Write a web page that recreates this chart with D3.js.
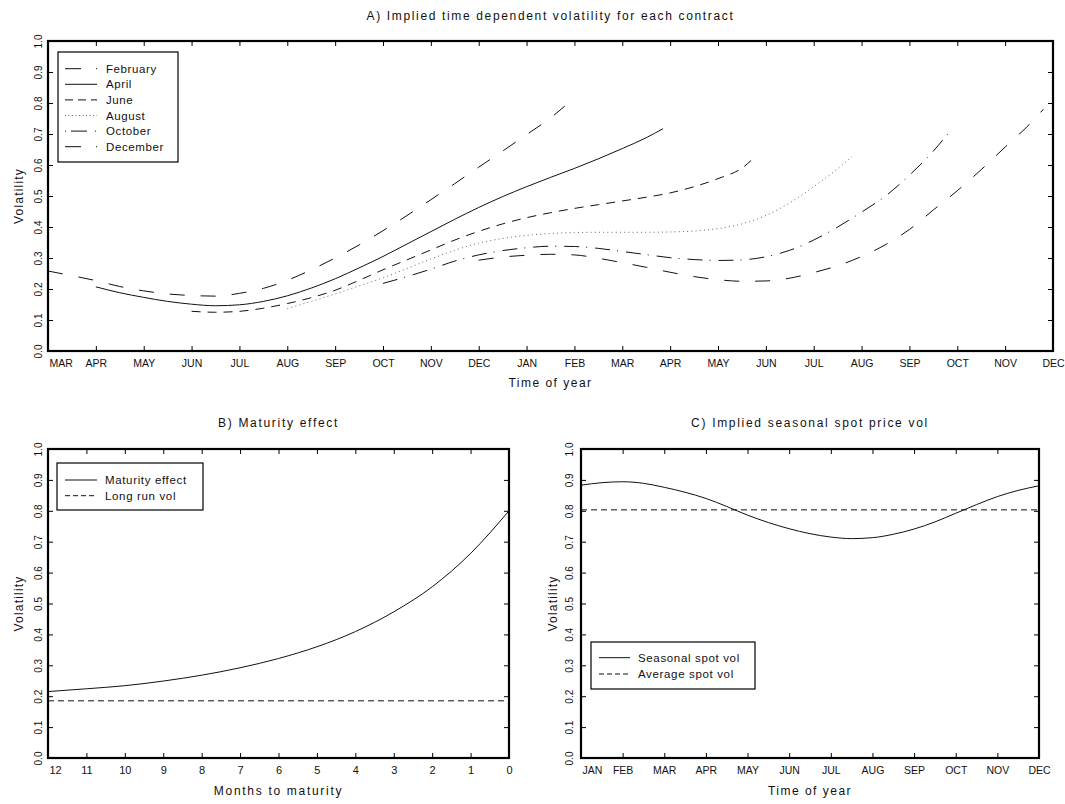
<!DOCTYPE html>
<html>
<head>
<meta charset="utf-8">
<script src="https://cdn.jsdelivr.net/npm/d3@7"></script>
<style>
  html, body { margin: 0; padding: 0; background: #fff; }
  svg { display: block; }
  text { font-family: "Liberation Sans", Arial, sans-serif; fill: #111; }
</style>
</head>
<body>
<svg id="chart" width="1065" height="804"></svg>
<script>
// ---------------- DATA ----------------
const monthsA = ["MAR","APR","MAY","JUN","JUL","AUG","SEP","OCT","NOV","DEC","JAN","FEB",
                 "MAR","APR","MAY","JUN","JUL","AUG","SEP","OCT","NOV","DEC"];
const monthsC = ["JAN","FEB","MAR","APR","MAY","JUN","JUL","AUG","SEP","OCT","NOV","DEC"];
const volTicks = [0,0.1,0.2,0.3,0.4,0.5,0.6,0.7,0.8,0.9,1.0];
const maturityTicks = [12,11,10,9,8,7,6,5,4,3,2,1,0];

const contractNames = ["February","April","June","August","October","December"];

// month position (0 = first MAR on axis) and implied volatility per contract
const febX = [0,0.5,1,1.5,2,2.5,3,3.5,4,4.5,5,5.5,6,6.5,7,7.5,8,8.5,9,9.5,10,10.5,10.8];
const febV = [0.258,0.243,0.227,0.208,0.194,0.184,0.179,0.177,0.186,0.202,0.228,0.262,0.3,0.342,0.388,0.437,0.488,0.54,0.593,0.645,0.698,0.752,0.79];
const aprX = [1,1.5,2,2.5,3,3.5,4,4.5,5,5.5,6,6.5,7,7.5,8,8.5,9,9.5,10,10.5,11,11.5,12,12.5,12.85];
const aprV = [0.207,0.188,0.173,0.16,0.151,0.146,0.149,0.16,0.178,0.203,0.233,0.268,0.305,0.345,0.385,0.425,0.463,0.498,0.53,0.56,0.589,0.62,0.653,0.688,0.717];
const junX = [3,3.5,4,4.5,5,5.5,6,6.5,7,7.5,8,8.5,9,9.5,10,10.5,11,11.5,12,12.5,13,13.5,14,14.5,14.8];
const junV = [0.128,0.125,0.128,0.138,0.153,0.172,0.196,0.228,0.262,0.294,0.326,0.358,0.386,0.41,0.43,0.446,0.46,0.472,0.484,0.496,0.51,0.53,0.556,0.59,0.63];
const augX = [5,5.5,6,6.5,7,7.5,8,8.5,9,9.5,10,10.5,11,11.5,12,12.5,13,13.5,14,14.5,15,15.5,16,16.5,16.8];
const augV = [0.137,0.16,0.184,0.21,0.236,0.266,0.297,0.325,0.348,0.363,0.373,0.379,0.382,0.383,0.383,0.383,0.384,0.387,0.395,0.41,0.437,0.478,0.53,0.588,0.627];
const octX = [7,7.5,8,8.5,9,9.5,10,10.5,11,11.5,12,12.5,13,13.5,14,14.5,15,15.5,16,16.5,17,17.5,18,18.5,18.87];
const octV = [0.218,0.24,0.264,0.29,0.31,0.324,0.333,0.338,0.337,0.331,0.321,0.311,0.301,0.295,0.292,0.294,0.304,0.325,0.358,0.4,0.448,0.5,0.567,0.645,0.713];
const decX = [9,9.5,10,10.5,11,11.5,12,12.5,13,13.5,14,14.5,15,15.5,16,16.5,17,17.5,18,18.5,19,19.5,20,20.5,20.8];
const decV = [0.293,0.303,0.309,0.312,0.31,0.299,0.285,0.27,0.254,0.24,0.23,0.225,0.226,0.235,0.253,0.275,0.305,0.343,0.392,0.455,0.517,0.585,0.658,0.73,0.78];

// Panel B: months to maturity vs volatility
const maturityX = [12,11,10,9,8,7,6,5,4,3,2,1,0];
const maturityV = [0.215,0.224,0.234,0.249,0.268,0.292,0.322,0.36,0.409,0.473,0.554,0.662,0.8];
const longRunVol = 0.185;

// Panel C: seasonal spot vol (month position, 0 = JAN)
const seasonX = [0,0.5,1,1.5,2,2.5,3,3.5,4,4.5,5,5.5,6,6.5,7,7.5,8,8.5,9,9.5,10,10.5,11];
const seasonV = [0.883,0.891,0.894,0.889,0.876,0.86,0.84,0.814,0.786,0.762,0.742,0.726,0.715,0.71,0.713,0.724,0.741,0.764,0.792,0.82,0.846,0.866,0.881];
const averageSpotVol = 0.803;

// ---------------- STYLES ----------------
const contractStyles = {
  February: { dash: "15,16", color: "#111", width: 1 },
  April:    { dash: null,    color: "#111", width: 1 },
  June:     { dash: "9,7",   color: "#111", width: 1 },
  August:   { dash: "1,3.2", color: "#666", width: 1 },
  October:  { dash: "15,7,1,8", color: "#111", width: 1 },
  December: { dash: "15,16", color: "#111", width: 1 }
};
const legendDash = {
  February: "16,15,1,20",
  April: null,
  June: "8,5",
  August: "1,2.5",
  October: "1,5,16,8,1,30",
  December: "16,15,1,20"
};

const svg = d3.select("#chart");
const FONT = "'Liberation Sans', Arial, sans-serif";

function frame(p) {
  svg.append("rect").attr("x", p.x0).attr("y", p.y0)
    .attr("width", p.x1 - p.x0).attr("height", p.y1 - p.y0)
    .attr("fill", "none").attr("stroke", "#000").attr("stroke-width", 2.2);
}

function styleAxis(g, size) {
  g.select(".domain").remove();
  g.selectAll(".tick line").attr("stroke", "#000").attr("stroke-width", 1);
  g.attr("font-family", FONT).attr("font-size", size);
  g.selectAll("text").attr("fill", "#111");
}

function drawAxes(p, x, y, xVals, xFmt, firstVal, xFontSize, yLabelOff) {
  // bottom
  const gb = svg.append("g").attr("transform", `translate(0,${p.y1})`)
    .call(d3.axisBottom(x).tickValues(xVals).tickSize(-5).tickFormat(xFmt));
  styleAxis(gb, xFontSize);
  gb.selectAll("text").attr("dy", null).attr("y", 15.5);
  gb.selectAll(".tick").filter(d => d === firstVal).select("text")
    .attr("text-anchor", "start").attr("x", 1);
  // top
  const gt = svg.append("g").attr("transform", `translate(0,${p.y0})`)
    .call(d3.axisTop(x).tickValues(xVals).tickSize(-5).tickFormat(""));
  styleAxis(gt, 10);
  // left
  const gl = svg.append("g").attr("transform", `translate(${p.x0},0)`)
    .call(d3.axisLeft(y).tickValues(volTicks).tickSize(-5).tickFormat(d3.format(".1f")));
  styleAxis(gl, 10);
  gl.selectAll("text").attr("transform", "rotate(-90)")
    .attr("x", 0).attr("y", yLabelOff).attr("dy", null).attr("text-anchor", "middle");
  // right
  const gr = svg.append("g").attr("transform", `translate(${p.x1},0)`)
    .call(d3.axisRight(y).tickValues(volTicks).tickSize(-5).tickFormat(""));
  styleAxis(gr, 10);
}

function label(x, y, txt, size, ls, rotate) {
  const t = svg.append("text").attr("font-family", FONT).attr("font-size", size)
    .attr("letter-spacing", ls).attr("text-anchor", "middle").text(txt);
  if (rotate) t.attr("transform", `translate(${x},${y}) rotate(-90)`);
  else t.attr("x", x).attr("y", y);
  return t;
}

function lineGen(x, y) {
  return d3.line().x(d => x(d[0])).y(d => y(d[1])).curve(d3.curveMonotoneX);
}

// ---------------- PANEL A ----------------
const pA = { x0: 48, x1: 1053, y0: 41, y1: 351 };
const xA = d3.scaleLinear().domain([0, 21]).range([pA.x0, pA.x1]);
const yA = d3.scaleLinear().domain([0, 1]).range([pA.y1, pA.y0]);

const contractData = {
  February: d3.zip(febX, febV),
  April: d3.zip(aprX, aprV),
  June: d3.zip(junX, junV),
  August: d3.zip(augX, augV),
  October: d3.zip(octX, octV),
  December: d3.zip(decX, decV)
};
const lA = lineGen(xA, yA);
contractNames.forEach(name => {
  const s = contractStyles[name];
  svg.append("path").datum(contractData[name]).attr("d", lA)
    .attr("fill", "none").attr("stroke", s.color).attr("stroke-width", s.width)
    .attr("stroke-dasharray", s.dash);
});
frame(pA);
drawAxes(pA, xA, yA, d3.range(monthsA.length), i => monthsA[i], 0, 10.5, -6.5);
label((pA.x0 + pA.x1) / 2, 20, "A) Implied time dependent volatility for each contract", 12, 1.65);
label((pA.x0 + pA.x1) / 2, 387, "Time of year", 12, 1.5);
label(23, (pA.y0 + pA.y1) / 2, "Volatility", 12, 1.2, true);

// legend A
const legA = { x: 58, y: 52, w: 120, h: 110, row0: 68.7, step: 15.6 };
svg.append("rect").attr("x", legA.x).attr("y", legA.y).attr("width", legA.w).attr("height", legA.h)
  .attr("fill", "#fff").attr("stroke", "#000").attr("stroke-width", 1.2);
contractNames.forEach((name, i) => {
  const yy = legA.row0 + i * legA.step;
  const s = contractStyles[name];
  svg.append("line").attr("x1", 65).attr("x2", 97).attr("y1", yy).attr("y2", yy)
    .attr("stroke", s.color).attr("stroke-width", 1).attr("stroke-dasharray", legendDash[name]);
  svg.append("text").attr("x", 106).attr("y", yy + 4).attr("font-family", FONT)
    .attr("font-size", 11.5).attr("letter-spacing", 0.6).text(name);
});

// ---------------- PANEL B ----------------
const pB = { x0: 48, x1: 509, y0: 449, y1: 758 };
const xB = d3.scaleLinear().domain([12, 0]).range([pB.x0, pB.x1]);
const yB = d3.scaleLinear().domain([0, 1]).range([pB.y1, pB.y0]);
svg.append("path").datum(d3.zip(maturityX, maturityV)).attr("d", lineGen(xB, yB))
  .attr("fill", "none").attr("stroke", "#111").attr("stroke-width", 1);
svg.append("line").attr("x1", xB(12)).attr("x2", xB(0)).attr("y1", yB(longRunVol)).attr("y2", yB(longRunVol))
  .attr("stroke", "#111").attr("stroke-width", 1).attr("stroke-dasharray", "6,4");
frame(pB);
drawAxes(pB, xB, yB, maturityTicks, d => String(d), 12, 11, -6.5);
label((pB.x0 + pB.x1) / 2, 427, "B) Maturity effect", 12, 1.7);
label((pB.x0 + pB.x1) / 2, 795, "Months to maturity", 12, 1.7);
label(23, (pB.y0 + pB.y1) / 2, "Volatility", 12, 1.2, true);

const legB = { x: 57, y: 463, w: 146, h: 47 };
svg.append("rect").attr("x", legB.x).attr("y", legB.y).attr("width", legB.w).attr("height", legB.h)
  .attr("fill", "#fff").attr("stroke", "#000").attr("stroke-width", 1.2);
[["Maturity effect", null], ["Long run vol", "5,3"]].forEach((e, i) => {
  const yy = 480 + i * 15.7;
  svg.append("line").attr("x1", 65).attr("x2", 97).attr("y1", yy).attr("y2", yy)
    .attr("stroke", "#111").attr("stroke-width", 1).attr("stroke-dasharray", e[1]);
  svg.append("text").attr("x", 105).attr("y", yy + 4).attr("font-family", FONT)
    .attr("font-size", 11.5).attr("letter-spacing", 0.65).text(e[0]);
});

// ---------------- PANEL C ----------------
const pC = { x0: 581, x1: 1039, y0: 449, y1: 758 };
const xC = d3.scaleLinear().domain([0, 11]).range([pC.x0, pC.x1]);
const yC = d3.scaleLinear().domain([0, 1]).range([pC.y1, pC.y0]);
svg.append("path").datum(d3.zip(seasonX, seasonV)).attr("d", lineGen(xC, yC))
  .attr("fill", "none").attr("stroke", "#111").attr("stroke-width", 1);
svg.append("line").attr("x1", xC(0)).attr("x2", xC(11)).attr("y1", yC(averageSpotVol)).attr("y2", yC(averageSpotVol))
  .attr("stroke", "#111").attr("stroke-width", 1).attr("stroke-dasharray", "6,4");
frame(pC);
drawAxes(pC, xC, yC, d3.range(12), i => monthsC[i], 0, 10.5, -8);
label((pC.x0 + pC.x1) / 2, 427, "C) Implied seasonal spot price vol", 12, 1.7);
label((pC.x0 + pC.x1) / 2, 795, "Time of year", 12, 1.5);
label(557, (pC.y0 + pC.y1) / 2, "Volatility", 12, 1.2, true);

const legC = { x: 591, y: 642, w: 164, h: 47 };
svg.append("rect").attr("x", legC.x).attr("y", legC.y).attr("width", legC.w).attr("height", legC.h)
  .attr("fill", "#fff").attr("stroke", "#000").attr("stroke-width", 1.2);
[["Seasonal spot vol", null], ["Average spot vol", "5,3"]].forEach((e, i) => {
  const yy = 657.7 + i * 16.3;
  svg.append("line").attr("x1", 599).attr("x2", 630).attr("y1", yy).attr("y2", yy)
    .attr("stroke", "#111").attr("stroke-width", 1).attr("stroke-dasharray", e[1]);
  svg.append("text").attr("x", 638).attr("y", yy + 4).attr("font-family", FONT)
    .attr("font-size", 11.5).attr("letter-spacing", 0.65).text(e[0]);
});
</script>
</body>
</html>
